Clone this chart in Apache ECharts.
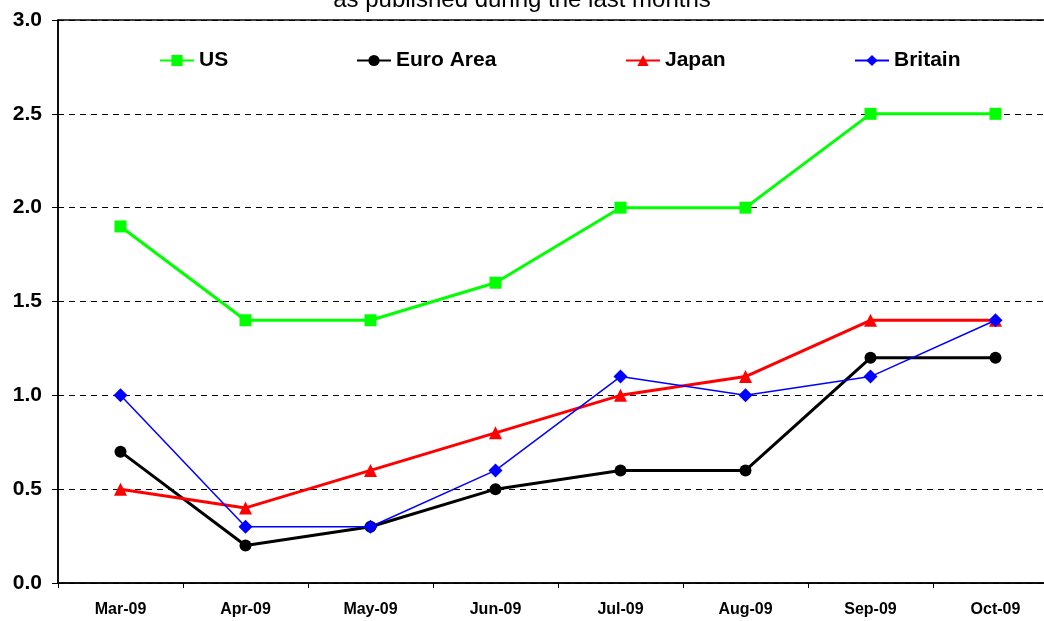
<!DOCTYPE html>
<html>
<head>
<meta charset="utf-8">
<script src="https://cdn.jsdelivr.net/npm/echarts@6/dist/echarts.min.js"></script>
<style>
    html, body { margin: 0; padding: 0; background: #fff; }
    #chart { width: 1044px; height: 621px; }
</style>
</head>
<body>
<div id="chart"></div>
<script>
var months = ['Mar-09', 'Apr-09', 'May-09', 'Jun-09', 'Jul-09', 'Aug-09', 'Sep-09', 'Oct-09'];
var usData = [1.9, 1.4, 1.4, 1.6, 2.0, 2.0, 2.5, 2.5];
var euroData = [0.7, 0.2, 0.3, 0.5, 0.6, 0.6, 1.2, 1.2];
var japanData = [0.5, 0.4, 0.6, 0.8, 1.0, 1.1, 1.4, 1.4];
var britainData = [1.0, 0.3, 0.3, 0.6, 1.1, 1.0, 1.1, 1.4];

var chart = echarts.init(document.getElementById('chart'));

var legendText = {
    fontFamily: 'Liberation Sans, Arial, sans-serif',
    fontWeight: 'bold',
    fontSize: 21,
    color: '#000'
};
var makeLegend = function(name, left) {
    return {
        data: [name],
        left: left,
        top: 45,
        itemWidth: 34,
        itemHeight: 14,
        itemGap: 4,
        textStyle: legendText
    };
};

var option = {
    backgroundColor: '#fff',
    animation: false,
    title: {
        text: 'as published during the last months',
        left: 'center',
        top: -17,
        textStyle: {
            fontFamily: 'Liberation Sans, Arial, sans-serif',
            fontWeight: 'normal',
            fontSize: 24,
            color: '#000'
        }
    },
    legend: [
        makeLegend('US', 154),
        makeLegend('Euro Area', 351),
        makeLegend('Japan', 620),
        makeLegend('Britain', 849)
    ],
    // plot runs past the right edge of the picture, like the original
    grid: {
        left: 58,
        right: -14,
        top: 20,
        bottom: 38,
        outerBoundsMode: 'none',
        containLabel: false,
        show: true,
        borderColor: '#000',
        borderWidth: 1.5
    },
    xAxis: {
        type: 'category',
        data: months,
        boundaryGap: true,
        axisLine: { lineStyle: { color: '#000', width: 1.5 } },
        axisTick: { show: true, length: 5, lineStyle: { color: '#000' } },
        axisLabel: {
            fontFamily: 'Liberation Sans, Arial, sans-serif',
            fontWeight: 'bold',
            fontSize: 16,
            color: '#000',
            margin: 19
        }
    },
    yAxis: {
        type: 'value',
        min: 0,
        max: 3,
        interval: 0.5,
        axisLine: { show: true, lineStyle: { color: '#000', width: 1.5 } },
        axisTick: { show: true, length: 6, lineStyle: { color: '#000' } },
        axisLabel: {
            fontFamily: 'Liberation Sans, Arial, sans-serif',
            fontWeight: 'bold',
            fontSize: 21,
            color: '#000',
            margin: 16,
            formatter: function(v) { return v.toFixed(1); }
        },
        splitLine: {
            show: true,
            lineStyle: { color: '#000', type: [6, 5], width: 1 }
        }
    },
    series: [{
        name: 'US',
        type: 'line',
        data: usData,
        symbol: 'rect',
        symbolSize: 12,
        color: '#00ff00',
        lineStyle: { width: 3, color: '#00ff00' },
        itemStyle: { color: '#00ff00' }
    }, {
        name: 'Euro Area',
        type: 'line',
        data: euroData,
        symbol: 'circle',
        symbolSize: 12,
        color: '#000',
        lineStyle: { width: 3, color: '#000' },
        itemStyle: { color: '#000' }
    }, {
        name: 'Japan',
        type: 'line',
        data: japanData,
        symbol: 'triangle',
        symbolSize: 13,
        color: '#ff0000',
        lineStyle: { width: 3, color: '#ff0000' },
        itemStyle: { color: '#ff0000' }
    }, {
        name: 'Britain',
        type: 'line',
        data: britainData,
        symbol: 'diamond',
        symbolSize: 14,
        color: '#0000ff',
        lineStyle: { width: 1.5, color: '#0000ff' },
        itemStyle: { color: '#0000ff' }
    }]
};
chart.setOption(option);
</script>
</body>
</html>
